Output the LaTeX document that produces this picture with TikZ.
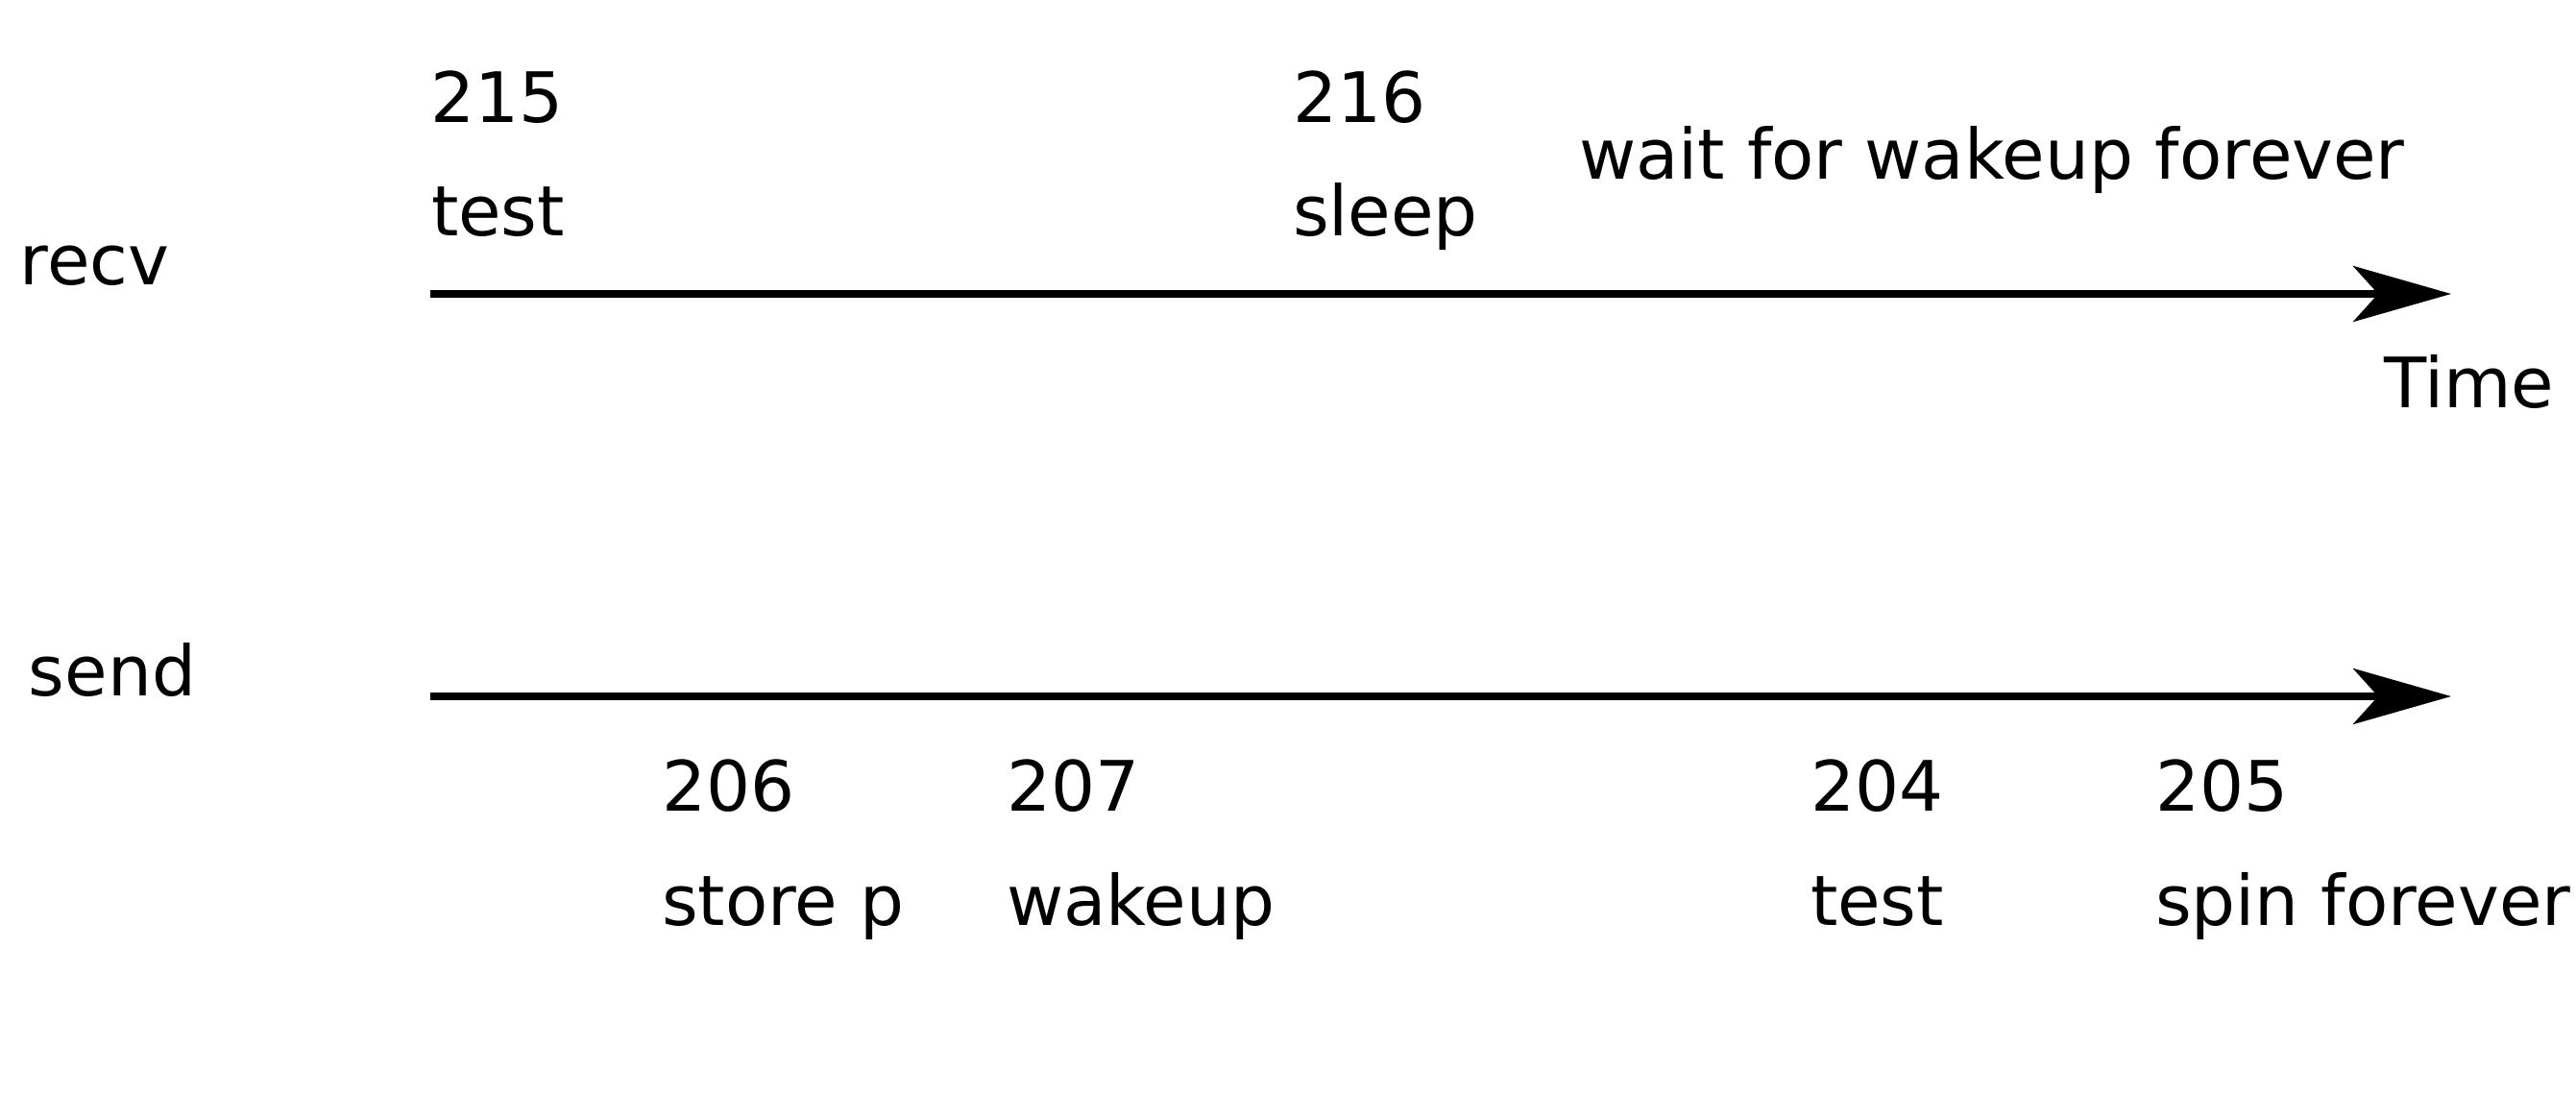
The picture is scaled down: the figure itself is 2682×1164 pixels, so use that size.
\documentclass[tikz,border=0pt]{standalone}
\usepackage{fontspec}
\setmainfont{DejaVu Sans}
\usetikzlibrary{arrows.meta}
\begin{document}
\begin{tikzpicture}[x=0.25pt,y=-0.25pt,
  lbl/.style={anchor=base west,inner sep=0pt,outer sep=0pt,font=\fontsize{18.1pt}{21pt}\selectfont},
  timeline/.style={line width=1.8pt,-{Stealth[length=25.5pt,width=14.5pt,inset=6.5pt]}}]
\useasboundingbox (0,0) rectangle (2682,1164);
% time lines
\coordinate (r0) at (448,306);
\coordinate (r1) at (2552,306);
\coordinate (s0) at (448,725);
\coordinate (s1) at (2552,725);
\draw[timeline] (r0) -- (r1);
\draw[timeline] (s0) -- (s1);
% row labels
\node[lbl] (recv) at (21,297) {recv};
\node[lbl] (send) at (30,725) {send};
\node[lbl] (time) at (2482,425) {Time};
% recv events
\node[lbl] (n215) at (448,128) {215};
\node[lbl] (t215) at (449,246) {test};
\node[lbl] (n216) at (1346,128) {216};
\node[lbl] (t216) at (1346,246) {sleep};
\node[lbl] (wait) at (1644,187) {wait for wakeup forever};
% send events
\node[lbl] (n206) at (689,845) {206};
\node[lbl] (t206) at (689,964) {store p};
\node[lbl] (n207) at (1048,845) {207};
\node[lbl] (t207) at (1048,964) {wakeup};
\node[lbl] (n204) at (1885,845) {204};
\node[lbl] (t204) at (1885,964) {test};
\node[lbl] (n205) at (2244,845) {205};
\node[lbl] (t205) at (2244,964) {spin forever};
\end{tikzpicture}
\end{document}
